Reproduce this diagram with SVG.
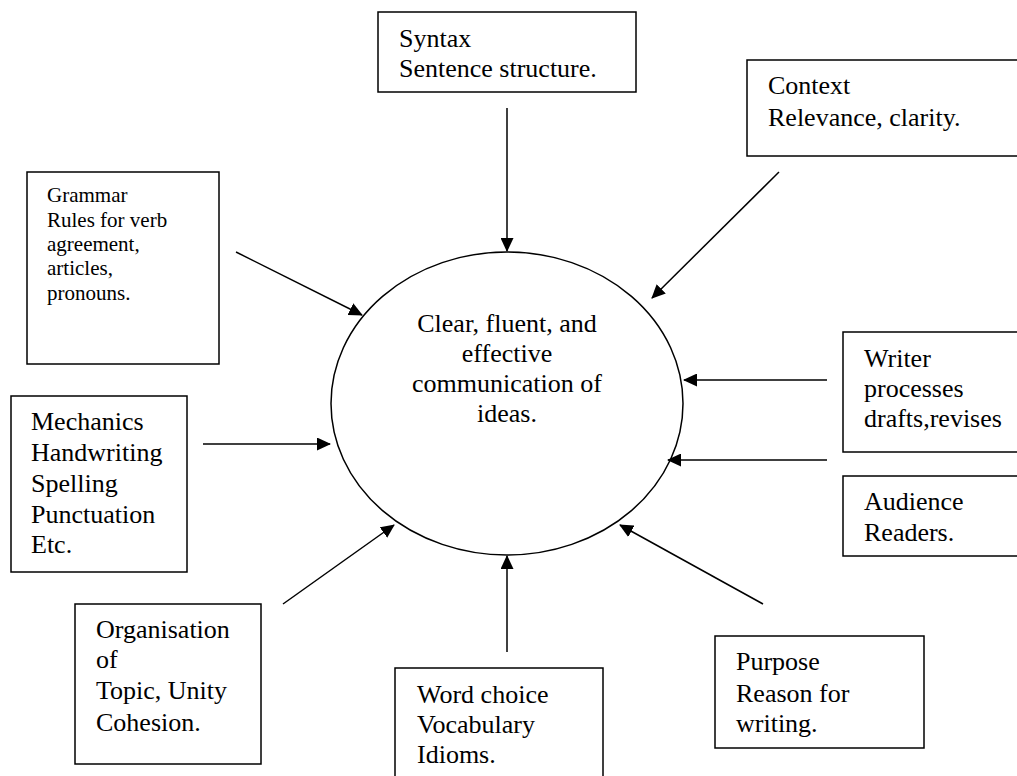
<svg xmlns="http://www.w3.org/2000/svg" width="1017" height="776" viewBox="0 0 1017 776">
<style>
.box{fill:#fff;stroke:#000;stroke-width:1.5}
.t{font-family:"Liberation Serif","Times New Roman",serif;font-size:26px;fill:#000}
.s{font-size:21px}
.c{text-anchor:middle}
.con{stroke:#000;stroke-width:1.5;fill:none;marker-end:url(#ah)}
</style>
<defs>
<marker id="ah" markerUnits="userSpaceOnUse" viewBox="0 0 14 13" refX="13" refY="6.5" markerWidth="14" markerHeight="13" orient="auto">
<path d="M0,0 L14,6.5 L0,13 z" fill="#000"/>
</marker>
</defs>
<rect width="1017" height="776" fill="#fff"/>
<g id="center">
<ellipse cx="507" cy="403.5" rx="176" ry="151.5" fill="#fff" stroke="#000" stroke-width="1.5"/>
<text class="t c" x="507" y="332">Clear, fluent, and</text>
<text class="t c" x="507" y="362">effective</text>
<text class="t c" x="507" y="392">communication of</text>
<text class="t c" x="507" y="422">ideas.</text>
</g>
<g id="syntax">
<rect class="box" x="378" y="12" width="258" height="80"/>
<text class="t" x="399" y="47">Syntax</text>
<text class="t" x="399" y="77">Sentence structure.</text>
</g>
<g id="context">
<rect class="box" x="747" y="60" width="290" height="96"/>
<text class="t" x="768" y="94">Context</text>
<text class="t" x="768" y="126">Relevance, clarity.</text>
</g>
<g id="grammar">
<rect class="box" x="27" y="172" width="192" height="192"/>
<text class="t s" x="47" y="202">Grammar</text>
<text class="t s" x="47" y="227">Rules for verb</text>
<text class="t s" x="47" y="251">agreement,</text>
<text class="t s" x="47" y="275">articles,</text>
<text class="t s" x="47" y="300">pronouns.</text>
</g>
<g id="writer">
<rect class="box" x="843" y="332" width="200" height="120"/>
<text class="t" x="864" y="367">Writer</text>
<text class="t" x="864" y="397">processes</text>
<text class="t" x="864" y="427">drafts,revises</text>
</g>
<g id="audience">
<rect class="box" x="843" y="476" width="200" height="80"/>
<text class="t" x="864" y="510">Audience</text>
<text class="t" x="864" y="541">Readers.</text>
</g>
<g id="mechanics">
<rect class="box" x="11" y="396" width="176" height="176"/>
<text class="t" x="31" y="430">Mechanics</text>
<text class="t" x="31" y="461">Handwriting</text>
<text class="t" x="31" y="492">Spelling</text>
<text class="t" x="31" y="523">Punctuation</text>
<text class="t" x="31" y="553">Etc.</text>
</g>
<g id="organisation">
<rect class="box" x="75" y="604" width="186" height="160"/>
<text class="t" x="96" y="638">Organisation</text>
<text class="t" x="96" y="668">of</text>
<text class="t" x="96" y="699">Topic, Unity</text>
<text class="t" x="96" y="731">Cohesion.</text>
</g>
<g id="wordchoice">
<rect class="box" x="395" y="668" width="208" height="130"/>
<text class="t" x="417" y="703">Word choice</text>
<text class="t" x="417" y="733">Vocabulary</text>
<text class="t" x="417" y="763">Idioms.</text>
</g>
<g id="purpose">
<rect class="box" x="715" y="636" width="209" height="112"/>
<text class="t" x="736" y="670">Purpose</text>
<text class="t" x="736" y="702">Reason for</text>
<text class="t" x="736" y="732">writing.</text>
</g>
<g id="connectors">
<line class="con" x1="507" y1="108" x2="507" y2="251"/>
<line class="con" x1="779" y1="172" x2="652" y2="298"/>
<line class="con" x1="236" y1="252" x2="362" y2="315"/>
<line class="con" x1="827" y1="380" x2="684" y2="380"/>
<line class="con" x1="827" y1="460" x2="668" y2="460"/>
<line class="con" x1="203" y1="444" x2="330" y2="444"/>
<line class="con" x1="283" y1="604" x2="394" y2="525"/>
<line class="con" x1="507" y1="652" x2="507" y2="556"/>
<line class="con" x1="763" y1="604" x2="620" y2="525"/>
</g>
</svg>
